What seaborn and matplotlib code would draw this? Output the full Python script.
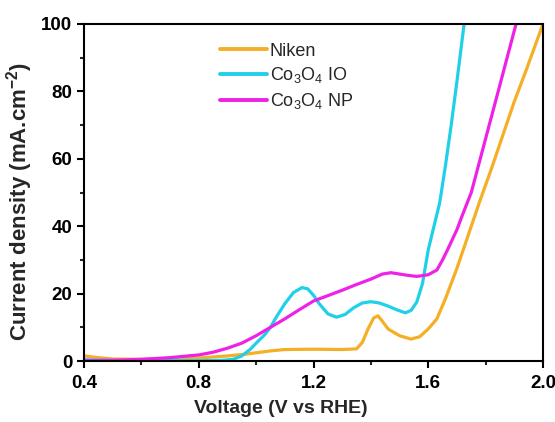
import numpy as np
import pandas as pd
import seaborn as sns
import matplotlib
matplotlib.use("Agg")
import matplotlib.pyplot as plt
from matplotlib.ticker import MultipleLocator

# Polarization curves (current density vs potential)
niken_v = [0.40, 0.45, 0.50, 0.60, 0.70, 0.80, 0.90, 0.97, 1.05, 1.10, 1.20, 1.30,
           1.35, 1.37, 1.39, 1.41, 1.425, 1.44, 1.46, 1.50, 1.54, 1.57, 1.60, 1.63,
           1.66, 1.70, 1.74, 1.78, 1.82, 1.86, 1.90, 1.94, 1.97, 2.00]
niken_j = [1.5, 1.0, 0.6, 0.5, 0.6, 0.9, 1.5, 2.1, 3.0, 3.4, 3.5, 3.4,
           3.6, 5.5, 9.5, 12.8, 13.4, 11.8, 9.5, 7.5, 6.5, 7.2, 9.5, 12.5,
           18.5, 27.5, 37.5, 47.5, 57.0, 67.0, 77.0, 86.0, 93.0, 100.0]

io_v = [0.40, 0.50, 0.60, 0.70, 0.80, 0.88, 0.92, 0.95, 0.98, 1.00, 1.03, 1.05,
        1.07, 1.10, 1.13, 1.16, 1.18, 1.20, 1.22, 1.25, 1.28, 1.31, 1.34, 1.37,
        1.40, 1.43, 1.46, 1.49, 1.52, 1.54, 1.56, 1.58, 1.60, 1.62, 1.64, 1.66,
        1.68, 1.70, 1.725]
io_j = [0.4, 0.2, 0.1, 0.1, 0.1, 0.2, 0.5, 1.5, 3.5, 5.3, 7.8, 10.0,
        13.0, 17.0, 20.3, 21.8, 21.4, 19.5, 17.0, 14.0, 13.0, 13.8, 15.8, 17.2,
        17.6, 17.2, 16.3, 15.2, 14.3, 15.0, 17.5, 23.0, 33.0, 40.0, 47.0, 58.0,
        70.0, 83.0, 100.0]

np_v = [0.40, 0.50, 0.60, 0.70, 0.80, 0.85, 0.90, 0.95, 1.00, 1.05, 1.10, 1.15,
        1.20, 1.25, 1.30, 1.35, 1.40, 1.44, 1.47, 1.50, 1.53, 1.56, 1.60, 1.63,
        1.65, 1.67, 1.70, 1.72, 1.75, 1.80, 1.85, 1.906]
np_j = [0.1, 0.2, 0.5, 1.0, 1.8, 2.6, 3.8, 5.3, 7.5, 10.0, 12.5, 15.2,
        17.8, 19.4, 21.0, 22.7, 24.3, 25.8, 26.2, 25.8, 25.4, 25.1, 25.6, 27.0,
        30.0, 33.5, 39.0, 43.5, 50.0, 66.0, 82.0, 100.0]

labels = ["Niken", r"Co$_3$O$_4$ IO", r"Co$_3$O$_4$ NP"]
colors = ["#F4AF27", "#20D0E8", "#EE22E6"]

df = pd.concat([
    pd.DataFrame({"V": niken_v, "J": niken_j, "sample": labels[0]}),
    pd.DataFrame({"V": io_v, "J": io_j, "sample": labels[1]}),
    pd.DataFrame({"V": np_v, "J": np_j, "sample": labels[2]}),
], ignore_index=True)

sns.set_theme(style="ticks")
plt.rcParams["font.family"] = ["Liberation Sans", "DejaVu Sans"]
plt.rcParams["mathtext.fontset"] = "custom"
plt.rcParams["mathtext.rm"] = "Liberation Sans"
plt.rcParams["mathtext.it"] = "Liberation Sans:italic"
plt.rcParams["mathtext.bf"] = "Liberation Sans:bold"

fig = plt.figure(figsize=(5.55, 4.22), dpi=100)
ax = fig.add_axes([84 / 555, 1 - 361 / 422, (543 - 84) / 555, (361 - 24) / 422])

sns.lineplot(data=df, x="V", y="J", hue="sample", palette=colors,
             hue_order=labels, linewidth=2.3, sort=False, estimator=None,
             ax=ax)

ax.set_xlim(0.4, 2.0)
ax.set_ylim(0, 100)
ax.xaxis.set_major_locator(MultipleLocator(0.4))
ax.xaxis.set_minor_locator(MultipleLocator(0.2))
ax.yaxis.set_major_locator(MultipleLocator(20))
ax.yaxis.set_minor_locator(MultipleLocator(10))
ax.set_xticklabels([f"{v:.1f}" for v in ax.get_xticks()])

for s in ax.spines.values():
    s.set_linewidth(1.5)
    s.set_color("black")
ax.tick_params(which="major", direction="out", length=5, width=1.5,
               labelsize=13.5, colors="black")
ax.tick_params(axis="x", which="major", pad=5)
ax.tick_params(which="minor", direction="out", length=3, width=1.5)
for lab in ax.get_xticklabels() + ax.get_yticklabels():
    lab.set_fontweight("bold")

ax.set_xlabel("Voltage (V vs RHE)", fontsize=14, fontweight="bold")
ax.xaxis.set_label_coords(0.429, -0.115)
ax.set_ylabel(r"Current density (mA.cm$^{\mathbf{-2}}$)", fontsize=16,
              fontweight="bold")
ax.yaxis.set_label_coords(-0.107, 0.472)

leg = ax.legend(loc="upper left", bbox_to_anchor=(0.296, 0.945), frameon=False,
                fontsize=13, handlelength=2.6, handletextpad=0.17,
                labelspacing=0.32, borderaxespad=0, borderpad=0)
for line in leg.get_lines():
    line.set_linewidth(2.8)

fig.savefig("out.png", dpi=100)
